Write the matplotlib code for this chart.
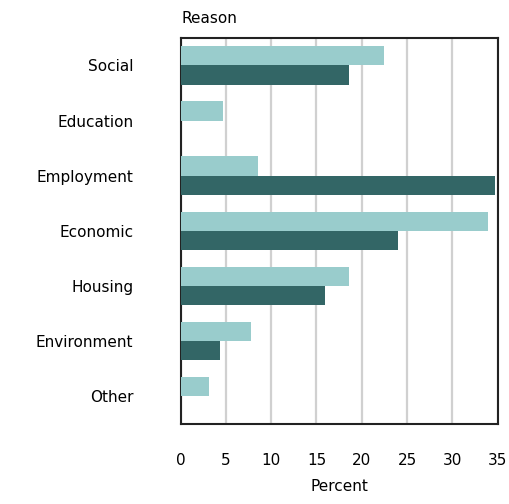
import matplotlib
matplotlib.use("Agg")
import numpy as np
import matplotlib.pyplot as plt

reasons = ["Social", "Education", "Employment", "Economic", "Housing", "Environment", "Other"]
light_vals = [22.5, 4.7, 8.6, 33.9, 18.6, 7.8, 3.1]
dark_vals = [18.6, 0.0, 34.7, 24.0, 15.9, 4.4, 0.0]
x_ticks = [0, 5, 10, 15, 20, 25, 30, 35]

light_col = "#99cccc"
dark_col = "#336666"

plt.rcParams["font.family"] = "DejaVu Sans"

fig = plt.figure(figsize=(5.10, 5.04), dpi=100)
ax = fig.add_axes([0.354, 0.159, 0.622, 0.766])

y = np.arange(len(reasons))
h = 0.35
ax.barh(y - h / 2, light_vals, height=h, color=light_col, linewidth=0, zorder=3)
ax.barh(y + h / 2, dark_vals, height=h, color=dark_col, linewidth=0, zorder=3)

ax.set_xlim(0, 35)
ax.set_ylim(len(reasons) - 0.5, -0.5)
ax.set_xticks(x_ticks)
ax.set_yticks(y)
ax.set_yticklabels(reasons)
ax.tick_params(axis="both", length=0, labelsize=11)
ax.tick_params(axis="x", pad=21)
ax.tick_params(axis="y", pad=34)

ax.grid(axis="x", color="#d0d0d0", linewidth=1.6, zorder=0)
ax.set_axisbelow(True)
for s in ax.spines.values():
    s.set_color("#222222")
    s.set_linewidth(1.5)

ax.set_xlabel("Percent", fontsize=11, labelpad=8)
fig.text(0.356, 0.963, "Reason", fontsize=11, ha="left", va="center")

fig.savefig("out.png", dpi=100)
